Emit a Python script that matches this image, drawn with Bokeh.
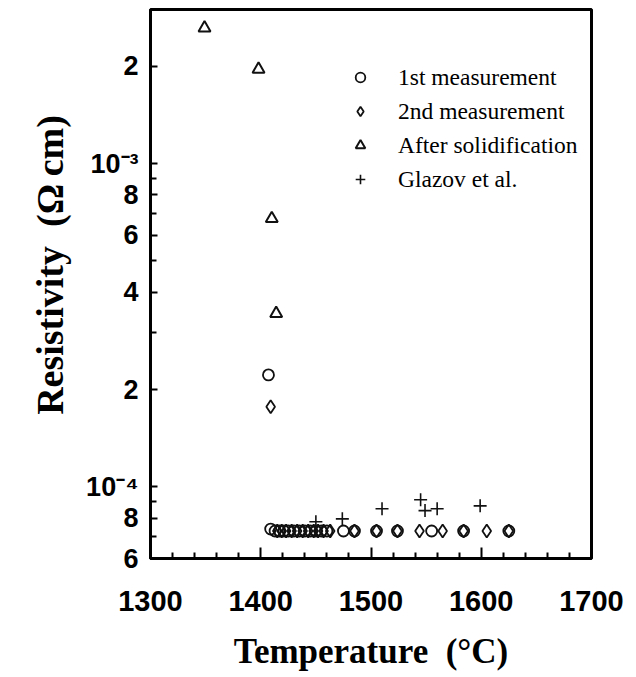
from bokeh.plotting import figure
from bokeh.models import FixedTicker, CustomJSTickFormatter, Legend, LegendItem
from bokeh.embed import file_html
from bokeh.resources import INLINE

# ---- data ----
first_T = [1407, 1409, 1413, 1417, 1421, 1425, 1430, 1435, 1440, 1445, 1450, 1455, 1460,
           1475, 1485, 1505, 1524, 1555, 1584, 1625]
first_R = [2.22e-4, 7.4e-5, 7.3e-5, 7.3e-5, 7.3e-5, 7.3e-5, 7.3e-5, 7.3e-5, 7.3e-5, 7.3e-5,
           7.3e-5, 7.3e-5, 7.3e-5, 7.3e-5, 7.3e-5, 7.3e-5, 7.3e-5, 7.3e-5, 7.3e-5, 7.3e-5]

second_T = [1409, 1415, 1419, 1423, 1428, 1433, 1438, 1443, 1448, 1452, 1457, 1463,
            1485, 1505, 1524, 1544, 1565, 1584, 1605, 1625]
second_R = [1.77e-4, 7.3e-5, 7.3e-5, 7.3e-5, 7.3e-5, 7.3e-5, 7.3e-5, 7.3e-5, 7.3e-5, 7.3e-5,
            7.3e-5, 7.3e-5, 7.3e-5, 7.3e-5, 7.3e-5, 7.3e-5, 7.3e-5, 7.3e-5, 7.3e-5, 7.3e-5]

solid_T = [1349, 1398, 1410, 1414]
solid_R = [2.63e-3, 1.96e-3, 6.76e-4, 3.44e-4]

glazov_T = [1450, 1474, 1510, 1545, 1549, 1560, 1599]
glazov_R = [7.8e-5, 7.96e-5, 8.55e-5, 9.12e-5, 8.44e-5, 8.55e-5, 8.73e-5]

x_ticks = [1300, 1400, 1500, 1600, 1700]
x_minor = [1320, 1340, 1360, 1380, 1420, 1440, 1460, 1480, 1520, 1540, 1560, 1580,
           1620, 1640, 1660, 1680]
y_tick_vals = [2e-3, 1e-3, 8e-4, 6e-4, 4e-4, 2e-4, 1e-4, 8e-5, 6e-5]
y_tick_labels = ["2", "10\u207b\u00b3", "8", "6", "4", "2", "10\u207b\u2074", "8", "6"]
y_minor = [3e-3, 9e-4, 7e-4, 5e-4, 3e-4, 9e-5, 7e-5]

series_labels = ["1st measurement", "2nd measurement", "After solidification", "Glazov et al."]
x_title = "Temperature\u2002(\u00b0C)"
y_title = "\u2002\u2002Resistivity\u2002(\u03a9\u2009cm)"

# ---- figure ----
p = figure(width=636, height=677, y_axis_type="log",
           x_range=(1300, 1700), y_range=(6e-5, 3e-3),
           output_backend="svg", toolbar_location=None,
           min_border_left=150, min_border_right=45, min_border_top=9, min_border_bottom=119)
p.grid.visible = False
p.outline_line_color = "black"
p.outline_line_width = 3
p.background_fill_color = "white"
p.border_fill_color = "white"

ink = "#111111"
r1 = p.scatter(first_T, first_R, marker="circle", size=11, fill_color=None,
               line_color=ink, line_width=1.8)
r2 = p.scatter(second_T, second_R, marker="diamond", size=13, fill_color=None,
               line_color=ink, line_width=1.8)
r3 = p.scatter(solid_T, solid_R, marker="triangle", size=12, fill_color=None,
               line_color=ink, line_width=2)
r4 = p.scatter(glazov_T, glazov_R, marker="cross", size=13, fill_color=None,
               line_color=ink, line_width=1.6)

# ---- axes ----
xa = p.xaxis[0]
xa.ticker = FixedTicker(ticks=x_ticks, minor_ticks=x_minor)
ya = p.yaxis[0]
ya.ticker = FixedTicker(ticks=y_tick_vals, minor_ticks=y_minor)
ya.formatter = CustomJSTickFormatter(args=dict(vals=y_tick_vals, labs=y_tick_labels), code="""
for (let i = 0; i < vals.length; i++) {
  if (Math.abs(vals[i] - tick) / tick < 1e-6) { return labs[i]; }
}
return "";
""")

for ax in (xa, ya):
    ax.axis_line_color = "black"
    ax.axis_line_width = 3
    ax.major_tick_line_color = "black"
    ax.major_tick_line_width = 2
    ax.minor_tick_line_color = "black"
    ax.minor_tick_line_width = 2
    ax.major_tick_out = 0
    ax.minor_tick_out = 0
    ax.major_label_text_font = "Liberation Sans"
    ax.major_label_text_font_style = "bold"
    ax.major_label_text_color = "black"
    ax.axis_label_text_font = "Liberation Serif"
    ax.axis_label_text_font_style = "bold"
    ax.axis_label_text_color = "black"

xa.major_tick_in = 11
xa.minor_tick_in = 6
xa.major_label_text_font_size = "29px"
xa.major_label_standoff = 32
xa.axis_label = x_title
xa.axis_label_text_font_size = "35px"
xa.axis_label_standoff = 18

ya.major_tick_in = 7
ya.minor_tick_in = 6
ya.major_label_text_font_size = "27px"
ya.major_label_standoff = 12
ya.axis_label = y_title
ya.axis_label_text_font_size = "38px"
ya.axis_label_standoff = 12

# ---- legend ----
legend = Legend(items=[LegendItem(label=series_labels[0], renderers=[r1]),
                       LegendItem(label=series_labels[1], renderers=[r2]),
                       LegendItem(label=series_labels[2], renderers=[r3]),
                       LegendItem(label=series_labels[3], renderers=[r4])],
                location=(198, 364))
legend.label_text_font = "Liberation Serif"
legend.label_text_font_size = "23.5px"
legend.label_text_color = "black"
legend.glyph_width = 24
legend.glyph_height = 30
legend.spacing = 4
legend.padding = 0
legend.margin = 0
legend.label_standoff = 26
legend.border_line_alpha = 0
legend.background_fill_alpha = 0
p.add_layout(legend)

open("out.html", "w").write(file_html(p, INLINE))
